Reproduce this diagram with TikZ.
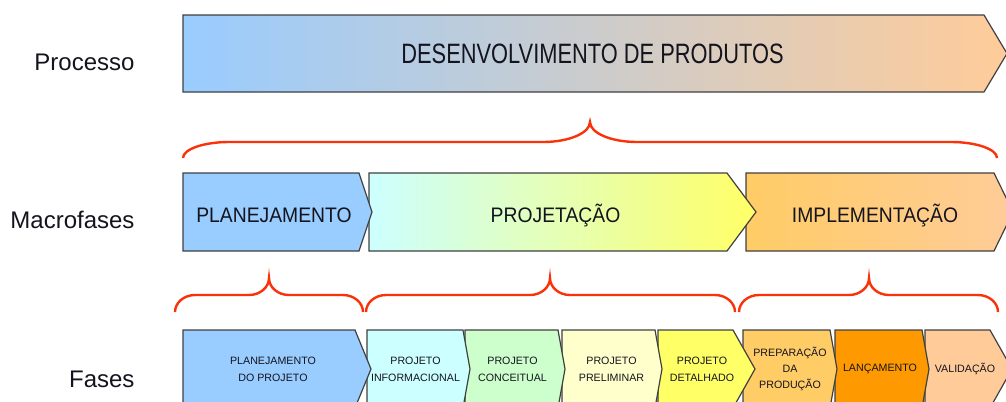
\documentclass[tikz,border=0pt]{standalone}
\usepackage{fontspec}
\setmainfont{Liberation Sans}
\newfontfamily\titlefont[FakeStretch=0.78]{Liberation Sans}
\newfontfamily\macrofont[FakeStretch=0.92]{Liberation Sans}
\definecolor{azul}{RGB}{153,204,255}
\definecolor{ciano}{RGB}{204,255,255}
\definecolor{verde}{RGB}{204,255,204}
\definecolor{creme}{RGB}{255,255,204}
\definecolor{amarelo}{RGB}{255,255,102}
\definecolor{ouro}{RGB}{255,204,102}
\definecolor{laranja}{RGB}{255,153,0}
\definecolor{pessego}{RGB}{255,204,153}
\definecolor{vermelho}{RGB}{250,50,10}
\definecolor{contorno}{RGB}{64,64,64}
\definecolor{texto}{RGB}{20,20,30}
\tikzset{every picture/.style={line width=0.75pt}}
\tikzset{
  caixa/.style={draw=contorno, line width=0.9pt},
  chave/.style={draw=vermelho, line width=1.8pt},
  rotulo/.style={anchor=base east, inner sep=0pt, text=texto, font=\fontsize{18}{21}\selectfont},
  fase/.style={inner sep=0pt, align=center, text=texto, font=\fontsize{8}{13}\selectfont},
}

\begin{document}
\begin{tikzpicture}[x=0.75pt,y=0.75pt,yscale=-1,xscale=1]
\useasboundingbox (0,0) rectangle (1006,401);
\clip (0,0) rectangle (1006,401);

%Shape: Pentagon [id:processo]
\draw [caixa, left color=azul, right color=pessego] (183,15) -- (984,15) -- (1007,53.5) -- (984,92) -- (183,92) -- cycle ;

%Shape: Pentagon [id:implementacao]
\draw [caixa, left color=ouro, right color=pessego] (746,173) -- (994,173) -- (1013,212) -- (994,251) -- (746,251) -- cycle ;
%Shape: Pentagon [id:projetacao]
\draw [caixa, left color=ciano, right color=amarelo] (369,173) -- (727,173) -- (756,212) -- (727,251) -- (369,251) -- cycle ;
%Shape: Pentagon [id:planejamento]
\draw [caixa, fill=azul] (183,173) -- (359,173) -- (372,212) -- (359,251) -- (183,251) -- cycle ;

%Shape: Pentagon [id:validacao]
\draw [caixa, fill=pessego] (925,330) -- (990,330) -- (1012,369) -- (990,408) -- (925,408) -- cycle ;
%Shape: Pentagon [id:lancamento]
\draw [caixa, fill=laranja] (835,330) -- (922,330) -- (929,369) -- (922,408) -- (835,408) -- cycle ;
%Shape: Pentagon [id:preparacao]
\draw [caixa, fill=ouro] (743,330) -- (830,330) -- (837,369) -- (830,408) -- (743,408) -- cycle ;
%Shape: Pentagon [id:detalhado]
\draw [caixa, fill=amarelo] (658,330) -- (733,330) -- (755,369) -- (733,408) -- (658,408) -- cycle ;
%Shape: Pentagon [id:preliminar]
\draw [caixa, fill=creme] (562,330) -- (655,330) -- (662,369) -- (655,408) -- (562,408) -- cycle ;
%Shape: Pentagon [id:conceitual]
\draw [caixa, fill=verde] (465,330) -- (558,330) -- (565,369) -- (558,408) -- (465,408) -- cycle ;
%Shape: Pentagon [id:informacional]
\draw [caixa, fill=ciano] (367,330) -- (463,330) -- (470,369) -- (463,408) -- (367,408) -- cycle ;
%Shape: Pentagon [id:planProjeto]
\draw [caixa, fill=azul] (183,330) -- (355,330) -- (371,369) -- (355,408) -- (183,408) -- cycle ;

%Curve Lines [id:chaveTopo]
\draw [chave] (183,158) .. controls (183,149.2) and (203.7,142) .. (229,142) -- (543,142) .. controls (568.9,142) and (590,133) .. (590,122) .. controls (590,133) and (611.1,142) .. (637,142) -- (951,142) .. controls (976.3,142) and (997,149.2) .. (997,158) ;
%Curve Lines [id:chavePlan]
\draw [chave] (175,312) .. controls (175,302.7) and (184,295) .. (195,295) -- (249,295) .. controls (260,295) and (269,287.4) .. (269,278) .. controls (269,287.4) and (278,295) .. (289,295) -- (343,295) .. controls (354,295) and (363,302.7) .. (363,312) ;
%Curve Lines [id:chaveProj]
\draw [chave] (366,312) .. controls (366,302.7) and (375,295) .. (386,295) -- (530,295) .. controls (541,295) and (550,287.4) .. (550,278) .. controls (550,287.4) and (559,295) .. (570,295) -- (715,295) .. controls (726,295) and (735,302.7) .. (735,312) ;
%Curve Lines [id:chaveImpl]
\draw [chave] (739,312) .. controls (739,302.7) and (748,295) .. (759,295) -- (849,295) .. controls (860,295) and (869,287.4) .. (869,278) .. controls (869,287.4) and (878,295) .. (889,295) -- (978,295) .. controls (989,295) and (998,302.7) .. (998,312) ;

% Text Node
\draw (135,70) node [rotulo] (lblProcesso) {Processo};
% Text Node
\draw (135,228) node [rotulo] (lblMacro) {Macrofases};
% Text Node
\draw (135,387) node [rotulo] (lblFases) {Fases};
% Text Node
\draw (592.5,63) node [anchor=base, inner sep=0pt, text=texto, font=\titlefont\fontsize{21}{25}\selectfont] (txtProcesso) {DESENVOLVIMENTO DE PRODUTOS};
% Text Node
\draw (274,222) node [anchor=base, inner sep=0pt, text=texto, font=\macrofont\fontsize{15.75}{19}\selectfont] (txtPlan) {PLANEJAMENTO};
% Text Node
\draw (555.5,222) node [anchor=base, inner sep=0pt, text=texto, font=\macrofont\fontsize{15.75}{19}\selectfont] (txtProj) {PROJETAÇÃO};
% Text Node
\draw (875,222) node [anchor=base, inner sep=0pt, text=texto, font=\macrofont\fontsize{15.75}{19}\selectfont] (txtImpl) {IMPLEMENTAÇÃO};
% Text Node
\draw (273,369) node [fase] (txtPlanProj) {PLANEJAMENTO\\DO PROJETO};
% Text Node
\draw (415.5,369) node [fase] (txtInfo) {PROJETO\\INFORMACIONAL};
% Text Node
\draw (512.5,369) node [fase] (txtConc) {PROJETO\\CONCEITUAL};
% Text Node
\draw (611.5,369) node [fase] (txtPrel) {PROJETO\\PRELIMINAR};
% Text Node
\draw (702,369) node [fase] (txtDet) {PROJETO\\DETALHADO};
% Text Node
\draw (790,369) node [fase, font=\fontsize{8}{12.2}\selectfont] (txtPrep) {PREPARAÇÃO\\DA\\PRODUÇÃO};
% Text Node
\draw (880,369) node [fase] (txtLanc) {LANÇAMENTO};
% Text Node
\draw (965,369) node [fase] (txtVal) {VALIDAÇÃO};

\end{tikzpicture}
\end{document}
